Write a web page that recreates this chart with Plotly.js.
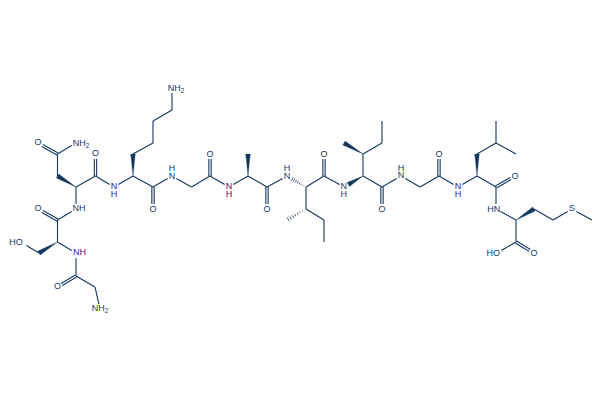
<!DOCTYPE html>
<html><head><meta charset="utf-8">
<script src="https://cdn.plot.ly/plotly-3.0.1.min.js"></script>
<style>html,body{margin:0;padding:0;background:#fff}#chart{opacity:.999}</style></head>
<body><div id="chart" style="width:600px;height:400px"></div>
<script>
// atom positions: name -> [x, y]
const atoms = {
 n1:[95,287],c1:[76,276],o1:[57.5,287],nt:[100,309],n2:[76,253],sa:[57.5,242],sb:[39,253],so:[22,243],
 c2:[57.5,220],o2:[38,209],n3:[76,209],aa:[76,187],ab:[57.5,176],ac:[57.5,154],ao:[38,143],an:[76,143],
 c3:[95.5,176],o3:[95.5,154],n4:[114,187],la:[133,176],lb:[133,154],lc:[153,143],ld:[153,121],le:[172,110],ln:[172,88],
 c4:[153,187],o4:[153,209],n5:[172,176],g1:[191.5,187],c5:[210,176],o5:[210,154],n6:[229,187],
 ala:[248,176],alb:[248,154],c6:[267,187],o6:[267,209],n7:[287,176],ia:[306,187],ib:[306,209],im:[287,220],ic:[324,220],id:[324,242],
 c7:[324,176],o7:[324,154],n8:[344,187],ja:[363,176],jb:[363,154],jm:[344,143],jc:[382,143],jd:[382,121],
 c8:[382,187],o8:[382,209],n9:[401,176],g2:[420,187],c9:[439,176],o9:[439,154],n10:[458,187],
 ka:[477,176],kb:[477,154],kc:[496,143],kd:[496,121],ke:[516,154],c10:[496,187],o10:[515,176],n11:[496,209],
 ma:[516,220],mb:[534,209],mc:[553,220],s:[572,209],me:[592,220],c11:[516,242],o11:[534,253],oh:[497,253]
};
const singleBonds = [["nt","n1"],["n1","c1"],["c1","n2"],["n2","sa"],["sa","c2"],["sb","so"],["c2","n3"],["n3","aa"],["ab","ac"],["ac","an"],
 ["aa","c3"],["c3","n4"],["n4","la"],["lb","lc"],["lc","ld"],["ld","le"],["le","ln"],["la","c4"],["c4","n5"],["n5","g1"],["g1","c5"],["c5","n6"],["n6","ala"],
 ["ala","c6"],["c6","n7"],["ia","c7"],["ia","ib"],["ib","ic"],["ic","id"],["c7","n8"],["ja","jb"],["jb","jc"],["jc","jd"],["ja","c8"],["c8","n9"],["n9","g2"],["g2","c9"],["c9","n10"],
 ["n10","ka"],["ka","c10"],["kb","kc"],["kc","kd"],["kc","ke"],["c10","n11"],["n11","ma"],["mb","mc"],["mc","s"],["s","me"],["ma","c11"],["c11","oh"]];
const doubleBonds = [["c1","o1"],["c2","o2"],["ac","ao"],["c3","o3"],["c4","o4"],["c5","o5"],["c6","o6"],["c7","o7"],["c8","o8"],["c9","o9"],["c10","o10"],["c11","o11"]];
// wedge: [narrow end, wide end]
const wedgeBonds = [["sa","sb"],["aa","ab"],["la","lb"],["ala","alb"],["ja","n8"],["jb","jm"],["ka","kb"],["ma","mb"]];
const hashBonds = [["ia","n7"],["ib","im"]];
const labelText = ["NH<sub>2</sub>","O","NH","HO","O","NH","O","NH<sub>2</sub>","O","N","H","NH<sub>2</sub>","O","H","N","O","N","H","O","H","N","O","N","H","O","H","N","O","N","H","O","HN","S","HO","O"];
const labelX = [100,57.5,79.5,16,38,79,38,81,95.5,114,114,176,153,172,172,210,229,229,267,287,287,324,343.7,343.7,382,401,401,439,458,458,515,493.7,572,493.3,534];
const labelY = [309,287,253,242.5,209,209,143,143.5,154,186.5,195,88.5,209.5,169,177,154.5,187,195,209.5,169,177,154.5,187,195,209.5,168.5,176,154.5,187,195,176.5,209.5,209,253.3,253.5];

const INK = "#16375f";
const hetero = new Set(["nt","o1","n2","so","o2","n3","ao","an","o3","n4","ln","o4","n5","o5","n6","o6","n7","o7","n8","o8","n9","o9","n10","o10","n11","s","o11","oh"]);
function seg(a,b){
  let [x1,y1]=atoms[a],[x2,y2]=atoms[b];
  const L=Math.hypot(x2-x1,y2-y1),ux=(x2-x1)/L,uy=(y2-y1)/L,r=5;
  if(hetero.has(a)){x1+=ux*r;y1+=uy*r}
  if(hetero.has(b)){x2-=ux*r;y2-=uy*r}
  return {x1,y1,x2,y2,ux,uy};
}
const lx=[],ly=[];
singleBonds.forEach(([a,b])=>{const s=seg(a,b);lx.push(s.x1,s.x2,null);ly.push(s.y1,s.y2,null)});
doubleBonds.forEach(([a,b])=>{const s=seg(a,b),d=1.15;[-d,d].forEach(k=>{
  lx.push(s.x1-s.uy*k,s.x2-s.uy*k,null);ly.push(s.y1+s.ux*k,s.y2+s.ux*k,null)})});
const hx=[],hy=[];
hashBonds.forEach(([a,b])=>{const s=seg(a,b),L=Math.hypot(s.x2-s.x1,s.y2-s.y1),n=8;
  for(let i=0;i<n;i++){const t=(i+.5)/n,w=t*2.3,px=s.x1+s.ux*L*t,py=s.y1+s.uy*L*t;
   hx.push(px-s.uy*w,px+s.uy*w,null);hy.push(py+s.ux*w,py-s.ux*w,null)}});
const wx=[],wy=[];
wedgeBonds.forEach(([a,b])=>{const s=seg(a,b),w=2.3;
  wx.push(s.x1,s.x2-s.uy*w,s.x2+s.uy*w,s.x1,null);wy.push(s.y1,s.y2+s.ux*w,s.y2-s.ux*w,s.y1,null)});
const traces=[
 {type:"scatter",mode:"lines",x:lx,y:ly,line:{color:INK,width:1.1},hoverinfo:"skip"},
 {type:"scatter",mode:"lines",x:hx,y:hy,line:{color:INK,width:.8},hoverinfo:"skip"},
 {type:"scatter",mode:"lines",x:wx,y:wy,fill:"toself",fillcolor:INK,line:{color:INK,width:.3},hoverinfo:"skip"},
 {type:"scatter",mode:"text",x:labelX,y:labelY,text:labelText,textposition:"middle center",
  textfont:{family:"Liberation Sans, Arial, sans-serif",size:9,color:INK},hoverinfo:"skip"}
];
Plotly.newPlot("chart",traces,{
 width:600,height:400,margin:{l:0,r:0,t:0,b:0},showlegend:false,paper_bgcolor:"#fff",plot_bgcolor:"#fff",
 xaxis:{range:[0,600],visible:false,fixedrange:true},
 yaxis:{range:[400,0],visible:false,fixedrange:true}
},{displayModeBar:false,staticPlot:true});
</script></body></html>
